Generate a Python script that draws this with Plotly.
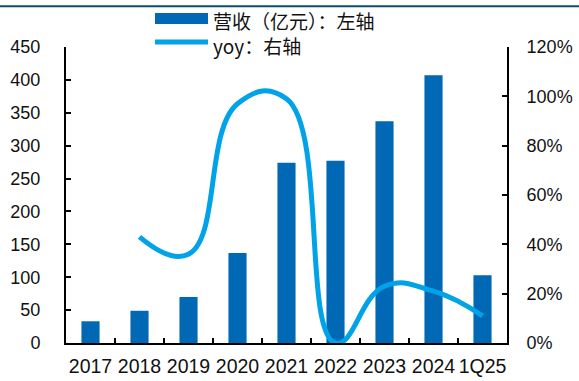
import plotly.graph_objects as go

# Revenue (100m CNY) and year-over-year growth
categories = ["2017", "2018", "2019", "2020", "2021", "2022", "2023", "2024", "1Q25"]
revenue = [33, 49, 70, 137, 274, 277, 337, 407, 103]
yoy_pct = [None, 43, 36, 97, 99, 0, 23, 21, 11]

left_ticks = [0, 50, 100, 150, 200, 250, 300, 350, 400, 450]
right_ticks = [0, 20, 40, 60, 80, 100, 120]
right_tick_text = [f"{v}%" for v in right_ticks]

BAR_COLOR = "#0068B5"
LINE_COLOR = "#00A3E8"
FONT = "Liberation Sans, Arial, Noto Sans CJK SC"
CJK_FONT = "Noto Sans CJK SC, Liberation Sans"

fig = go.Figure()
fig.add_trace(go.Bar(
    x=categories, y=revenue, name="营收（亿元）：左轴",
    marker=dict(color=BAR_COLOR, line=dict(width=0)),
    width=0.37, yaxis="y",
))
fig.add_trace(go.Scatter(
    x=categories, y=yoy_pct, name="yoy：右轴", mode="lines",
    line=dict(color=LINE_COLOR, width=5, shape="spline", smoothing=1.3),
    yaxis="y2", cliponaxis=False, connectgaps=False,
))

axis_common = dict(
    showgrid=False, zeroline=False, showline=True, linecolor="black",
    linewidth=2, ticks="inside", ticklen=5, tickwidth=2, tickcolor="black",
    tickfont=dict(family=FONT, size=18, color="#111111"),
    automargin=False,
)

fig.update_layout(
    width=579, height=381,
    margin=dict(l=66, r=72, t=47, b=38),
    paper_bgcolor="white", plot_bgcolor="white",
    showlegend=False,
    font=dict(family=FONT, color="#111111"),
    xaxis=dict(
        **{**axis_common, "tickfont": dict(family=FONT, size=19.5, color="#111111")},
        type="category", range=[-0.5, 8.5], tickson="boundaries",
        tickangle=0, ticklabelstandoff=5,
    ),
    yaxis=dict(
        **axis_common, range=[0, 450], tickvals=left_ticks,
        ticklabelstandoff=20,
    ),
    yaxis2=dict(
        **axis_common, overlaying="y", side="right", range=[0, 120],
        tickvals=right_ticks, ticktext=right_tick_text,
        ticklabelstandoff=14,
    ),
)

# Pixel helpers relative to the plot area
def px_x(x):
    return (x - 66) / 441

def px_y(y):
    return (343 - y) / 296

# Header rule across the top of the page
fig.add_shape(type="line", xref="paper", yref="paper",
              x0=px_x(0), x1=px_x(579), y0=px_y(6.3), y1=px_y(6.3),
              line=dict(color="#0B4D72", width=2))

# Legend drawn by hand with wide swatches
legend_labels = [fig.data[0].name, fig.data[1].name]
fig.add_shape(type="rect", xref="paper", yref="paper",
              x0=px_x(155), x1=px_x(208), y0=px_y(24), y1=px_y(13),
              fillcolor=BAR_COLOR, line=dict(width=0))
fig.add_shape(type="line", xref="paper", yref="paper",
              x0=px_x(155), x1=px_x(208), y0=px_y(42), y1=px_y(42),
              line=dict(color=LINE_COLOR, width=5))
fig.add_annotation(text="<br>".join(legend_labels), xref="paper", yref="paper",
                   x=px_x(211), y=px_y(32.5), xanchor="left", yanchor="middle",
                   align="left", showarrow=False,
                   font=dict(family=CJK_FONT, size=19, color="#111111"))

fig.write_html("out.html")
